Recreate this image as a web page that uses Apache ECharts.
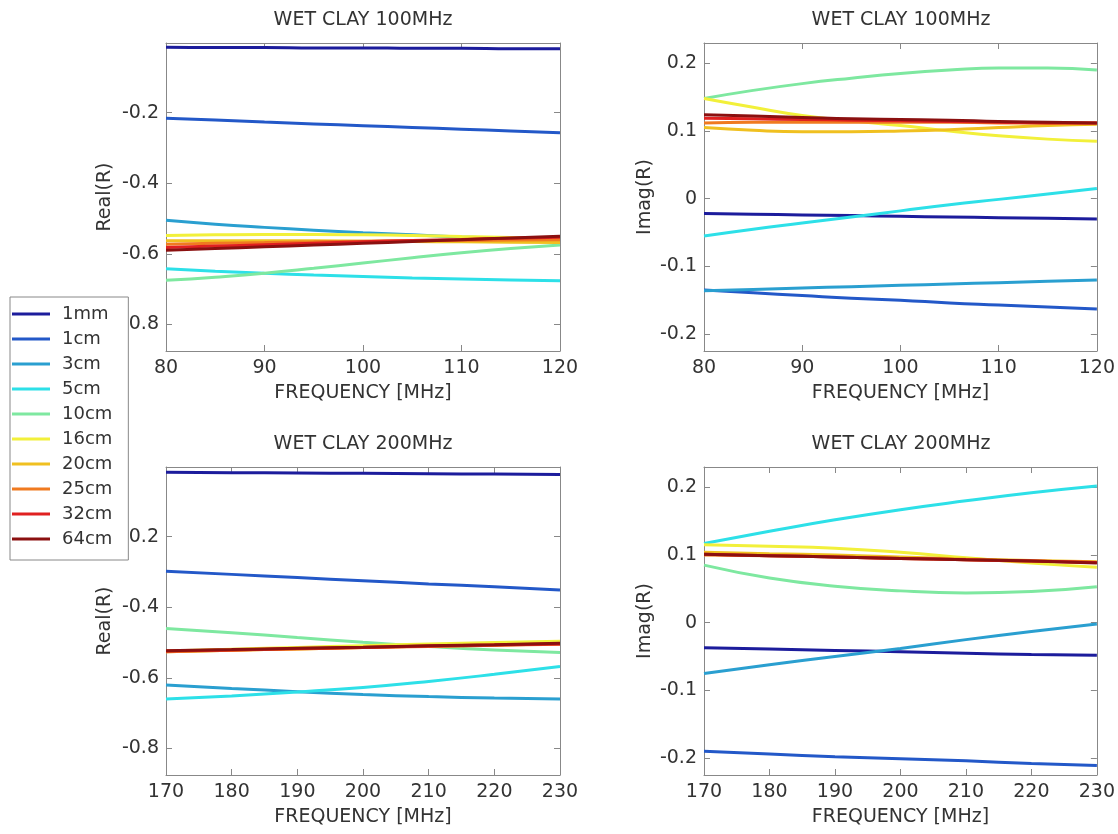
<!DOCTYPE html>
<html>
<head>
<meta charset="utf-8">
<script src="https://cdn.jsdelivr.net/npm/echarts@6/dist/echarts.min.js"></script>
<style>html,body{margin:0;padding:0;background:#fff;}#c{width:1118px;height:834px;}</style>
</head>
<body>
<div id="c"></div>
<script>
// ---- data ----
const names = ['1mm','1cm','3cm','5cm','10cm','16cm','20cm','25cm','32cm','64cm'];
const colors = ['#1c1c9c','#2358c8','#2a9fd0','#2de0e8','#7ee8a0','#f2f03a','#f0c020','#f07a20','#e02020','#8b1010'];

const freq100 = [80,85,90,95,100,105,110,115,120];
const freq200 = [170,180,190,200,210,220,230];

const realTicks = [-0.8,-0.6,-0.4,-0.2];
const imagTicks = [-0.2,-0.1,0,0.1,0.2];

// Real(R), 100 MHz (one row per thickness, order = names)
const real100 = [
  [-0.015,-0.016,-0.016,-0.017,-0.017,-0.018,-0.018,-0.019,-0.019],
  [-0.216,-0.221,-0.227,-0.232,-0.237,-0.242,-0.247,-0.252,-0.257],
  [-0.505,-0.516,-0.525,-0.533,-0.540,-0.546,-0.552,-0.557,-0.562],
  [-0.642,-0.649,-0.655,-0.660,-0.664,-0.668,-0.671,-0.674,-0.676],
  [-0.675,-0.666,-0.655,-0.641,-0.626,-0.611,-0.597,-0.585,-0.575],
  [-0.548,-0.546,-0.545,-0.545,-0.546,-0.548,-0.551,-0.554,-0.558],
  [-0.563,-0.563,-0.563,-0.563,-0.564,-0.565,-0.566,-0.567,-0.568],
  [-0.573,-0.570,-0.568,-0.566,-0.564,-0.563,-0.562,-0.561,-0.560],
  [-0.582,-0.578,-0.574,-0.570,-0.566,-0.562,-0.559,-0.556,-0.553],
  [-0.590,-0.585,-0.580,-0.575,-0.570,-0.565,-0.560,-0.555,-0.550]
];
// Imag(R), 100 MHz
const imag100 = [
  [-0.022,-0.023,-0.024,-0.025,-0.026,-0.027,-0.028,-0.029,-0.030],
  [-0.135,-0.139,-0.143,-0.147,-0.150,-0.154,-0.157,-0.160,-0.163],
  [-0.136,-0.134,-0.132,-0.130,-0.128,-0.126,-0.124,-0.122,-0.120],
  [-0.055,-0.045,-0.036,-0.027,-0.018,-0.009,-0.001,0.007,0.015],
  [0.148,0.160,0.170,0.178,0.185,0.190,0.193,0.193,0.190],
  [0.148,0.135,0.123,0.115,0.108,0.100,0.093,0.088,0.085],
  [0.105,0.101,0.099,0.099,0.100,0.102,0.105,0.108,0.110],
  [0.112,0.113,0.113,0.113,0.113,0.113,0.112,0.112,0.112],
  [0.119,0.118,0.117,0.116,0.115,0.114,0.113,0.112,0.112],
  [0.124,0.122,0.120,0.118,0.117,0.116,0.114,0.113,0.112]
];
// Real(R), 200 MHz
const real200 = [
  [-0.018,-0.019,-0.020,-0.021,-0.022,-0.023,-0.024],
  [-0.298,-0.307,-0.316,-0.325,-0.334,-0.342,-0.351],
  [-0.620,-0.630,-0.639,-0.647,-0.653,-0.657,-0.660],
  [-0.660,-0.651,-0.640,-0.627,-0.610,-0.590,-0.568],
  [-0.460,-0.472,-0.486,-0.499,-0.511,-0.521,-0.528],
  [-0.524,-0.519,-0.514,-0.509,-0.504,-0.500,-0.496],
  [-0.526,-0.522,-0.518,-0.514,-0.510,-0.507,-0.503],
  [-0.526,-0.522,-0.518,-0.514,-0.511,-0.508,-0.505],
  [-0.524,-0.521,-0.517,-0.514,-0.510,-0.507,-0.504],
  [-0.523,-0.520,-0.516,-0.513,-0.509,-0.506,-0.502]
];
// Imag(R), 200 MHz
const imag200 = [
  [-0.037,-0.039,-0.041,-0.043,-0.045,-0.047,-0.048],
  [-0.190,-0.194,-0.198,-0.201,-0.204,-0.208,-0.211],
  [-0.075,-0.062,-0.050,-0.038,-0.025,-0.013,-0.002],
  [0.117,0.135,0.152,0.167,0.180,0.192,0.202],
  [0.085,0.066,0.054,0.047,0.044,0.046,0.053],
  [0.115,0.113,0.110,0.104,0.096,0.088,0.082],
  [0.104,0.102,0.100,0.097,0.094,0.092,0.090],
  [0.100,0.099,0.097,0.095,0.093,0.091,0.089],
  [0.101,0.099,0.097,0.095,0.093,0.091,0.089],
  [0.101,0.099,0.097,0.095,0.093,0.091,0.088]
];

// ---- layout ----
const FONT = 'DejaVu Sans';
const TXT = '#333';
const AX = '#888';
const FS = 19;
const panels = [
  {title:'WET CLAY 100MHz', x:freq100, y:real100, xmin:80, xmax:120, ymin:-0.875, ymax:-0.003, ticks:realTicks, yname:'Real(R)', left:166, top:43, width:394, height:308, ngap:51},
  {title:'WET CLAY 100MHz', x:freq100, y:imag100, xmin:80, xmax:120, ymin:-0.225, ymax:0.23, ticks:imagTicks, yname:'Imag(R)', left:704, top:43, width:394, height:308, ngap:49},
  {title:'WET CLAY 200MHz', x:freq200, y:real200, xmin:170, xmax:230, ymin:-0.875, ymax:-0.003, ticks:realTicks, yname:'Real(R)', left:166, top:467, width:394, height:308, ngap:51},
  {title:'WET CLAY 200MHz', x:freq200, y:imag200, xmin:170, xmax:230, ymin:-0.225, ymax:0.23, ticks:imagTicks, yname:'Imag(R)', left:704, top:467, width:394, height:308, ngap:49}
];

const grid = [], xAxis = [], yAxis = [], series = [], title = [];
panels.forEach((p, g) => {
  grid.push({left:p.left, top:p.top, width:p.width, height:p.height, show:false});
  title.push({text:p.title, left:p.left + p.width/2, top:p.top - 32, textAlign:'center', padding:0,
    textStyle:{fontFamily:FONT, fontSize:FS, fontWeight:'normal', color:TXT}});
  const line = {show:true, onZero:false, lineStyle:{color:AX, width:1}};
  xAxis.push({type:'value', gridIndex:g, position:'bottom', min:p.xmin, max:p.xmax, interval:10,
    axisLine:line, axisTick:{inside:true, length:6, lineStyle:{color:AX}},
    axisLabel:{color:TXT, fontFamily:FONT, fontSize:FS, margin:8}, splitLine:{show:false},
    name:'FREQUENCY [MHz]', nameLocation:'middle', nameGap:33,
    nameTextStyle:{color:TXT, fontFamily:FONT, fontSize:FS}});
  xAxis.push({type:'value', gridIndex:g, position:'top', min:p.xmin, max:p.xmax, interval:10,
    axisLine:line, axisTick:{inside:true, length:6, lineStyle:{color:AX}},
    axisLabel:{show:false}, splitLine:{show:false}});
  yAxis.push({type:'value', gridIndex:g, position:'left', min:p.ymin, max:p.ymax,
    axisLine:line, axisTick:{inside:true, length:6, customValues:p.ticks, lineStyle:{color:AX}},
    axisLabel:{customValues:p.ticks, color:TXT, fontFamily:FONT, fontSize:FS, margin:7}, splitLine:{show:false},
    name:p.yname, nameLocation:'middle', nameGap:p.ngap, nameRotate:90,
    nameTextStyle:{color:TXT, fontFamily:FONT, fontSize:FS}});
  yAxis.push({type:'value', gridIndex:g, position:'right', min:p.ymin, max:p.ymax,
    axisLine:line, axisTick:{inside:true, length:6, customValues:p.ticks, lineStyle:{color:AX}},
    axisLabel:{show:false}, splitLine:{show:false}});
  names.forEach((n, i) => {
    series.push({name:n, type:'line', xAxisIndex:2*g, yAxisIndex:2*g, smooth:true, symbol:'none',
      lineStyle:{width:3, color:colors[i]}, itemStyle:{color:colors[i]}, emphasis:{disabled:true},
      data:p.x.map((x, k) => [x, p.y[i][k]])});
  });
});

const chart = echarts.init(document.getElementById('c'), null, {renderer:'canvas'});
chart.setOption({
  animation:false,
  backgroundColor:'#fff',
  color:colors,
  title, grid, xAxis, yAxis, series,
  legend:{
    data:names, orient:'vertical', left:10, top:297, z:10,
    icon:'rect', itemWidth:38, itemHeight:3, itemGap:5,
    padding:[7,16,11,2], backgroundColor:'#fff', borderColor:'#888', borderWidth:1,
    textStyle:{fontFamily:FONT, fontSize:18, color:TXT, lineHeight:20, padding:[0,0,0,7]}
  }
});
</script>
</body>
</html>
